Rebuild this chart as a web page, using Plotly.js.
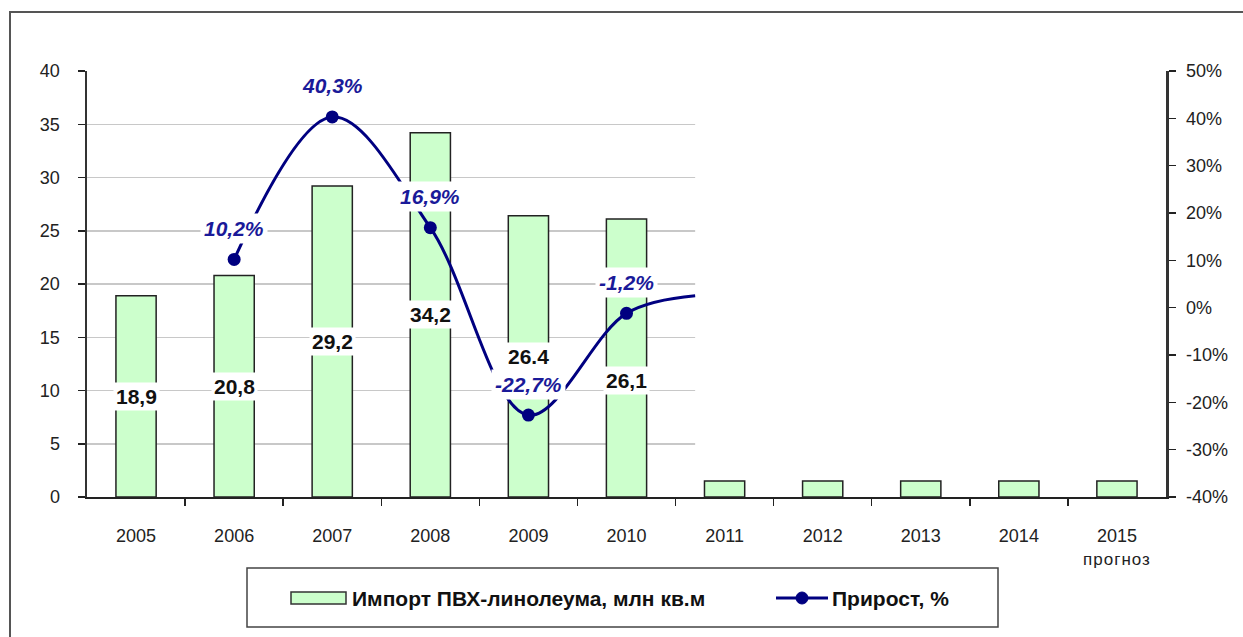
<!DOCTYPE html>
<html><head><meta charset="utf-8">
<script src="https://cdn.plot.ly/plotly-3.0.1.min.js"></script>
<style>html,body{margin:0;padding:0;background:#fff}#chart{width:1243px;height:637px}</style>
</head><body><div id="chart"></div>
<script>
const years = [2005, 2006, 2007, 2008, 2009, 2010, 2011, 2012, 2013, 2014, 2015];
const yearLabels = ['2005', '2006', '2007', '2008', '2009', '2010', '2011', '2012', '2013', '2014', '2015<br><span style="font-size:17px;letter-spacing:1px">прогноз</span>'];
const importValues = [18.9, 20.8, 29.2, 34.2, 26.4, 26.1, 1.5, 1.5, 1.5, 1.5, 1.5];
const importLabels = ['18,9', '20,8', '29,2', '34,2', '26.4', '26,1'];
const growthYears = [2006, 2007, 2008, 2009, 2010, 2010.7];
const growthValues = [10.2, 40.3, 16.9, -22.7, -1.2, 2.5];
const growthLabels = ['10,2%', '40,3%', '16,9%', '-22,7%', '-1,2%'];
const seriesNames = ['Импорт ПВХ-линолеума, млн кв.м', 'Прирост, %'];
const leftTicks = [0, 5, 10, 15, 20, 25, 30, 35, 40];
const rightTicks = [-40, -30, -20, -10, 0, 10, 20, 30, 40, 50];
const rightTickText = ['-40%', '-30%', '-20%', '-10%', '0%', '10%', '20%', '30%', '40%', '50%'];

const FONT = 'Liberation Sans, Arial, sans-serif';
const W = 1243, H = 637, ML = 87, MR = 77, MT = 71, MB = 140;
const PW = W - ML - MR, PH = H - MT - MB;
const px = v => (v - ML) / PW;
const py = v => (H - MB - v) / PH;

const barTrace = {
  type: 'bar', x: years, y: importValues, name: seriesNames[0],
  marker: {color: '#ccffcc', line: {color: '#222', width: 1.5}},
  width: 0.41, showlegend: false, hoverinfo: 'x+y'
};
const lineTrace = {
  type: 'scatter', mode: 'lines+markers', x: growthYears, y: growthValues, yaxis: 'y2',
  name: seriesNames[1],
  line: {color: '#000080', width: 3, shape: 'spline', smoothing: 1},
  marker: {color: '#000080', opacity: 1, line: {width: 0},
           size: growthValues.map((v, i) => i < growthLabels.length ? 13 : 0)},
  showlegend: false
};

const annotations = [];
importLabels.forEach((t, i) => {
  annotations.push({
    x: years[i], y: importValues[i] / 2, xref: 'x', yref: 'y', text: '<b>' + t + '</b>', showarrow: false,
    yshift: i === 5 ? -22 : 0,
    font: {family: FONT, size: 21, color: '#111'},
    bgcolor: '#ffffff', borderpad: 2
  });
});
growthLabels.forEach((t, i) => {
  annotations.push({
    x: growthYears[i], y: growthValues[i], xref: 'x', yref: 'y2', text: '<b><i>' + t + '</i></b>',
    showarrow: false, yshift: 31,
    font: {family: FONT, size: 21, color: '#1a1a99'},
    bgcolor: '#ffffff', borderpad: 3
  });
});
// legend texts
annotations.push({xref: 'paper', yref: 'paper', x: px(350), y: py(598), xanchor: 'left', yanchor: 'middle',
  text: '<b>' + seriesNames[0] + '</b>', showarrow: false, font: {family: FONT, size: 21, color: '#111'}});
annotations.push({xref: 'paper', yref: 'paper', x: px(830), y: py(598), xanchor: 'left', yanchor: 'middle',
  text: '<b>' + seriesNames[1] + '</b>', showarrow: false, font: {family: FONT, size: 21, color: '#111'}});

const shapes = [
  // white cover of the unfinished part (grid hidden to the right)
  {type: 'rect', xref: 'x', yref: 'y', x0: growthYears[growthYears.length - 1], x1: 2016, y0: 0.25, y1: 41,
   fillcolor: '#ffffff', line: {width: 0}, layer: 'between'},
  // outer frame
  {type: 'rect', xref: 'paper', yref: 'paper', x0: px(10), x1: px(1262), y0: py(12), y1: py(660),
   line: {color: '#555', width: 2}, fillcolor: 'rgba(0,0,0,0)'},
  // legend box
  {type: 'rect', xref: 'paper', yref: 'paper', x0: px(247), x1: px(998), y0: py(568), y1: py(627),
   line: {color: '#444', width: 1.5}, fillcolor: 'rgba(0,0,0,0)'},
  // legend bar symbol
  {type: 'rect', xref: 'paper', yref: 'paper', x0: px(291), x1: px(346), y0: py(592), y1: py(604),
   line: {color: '#333', width: 1.5}, fillcolor: '#ccffcc'},
  // legend line symbol
  {type: 'line', xref: 'paper', yref: 'paper', x0: px(776), x1: px(828), y0: py(598), y1: py(598),
   line: {color: '#000080', width: 3}},
  {type: 'circle', xref: 'paper', yref: 'paper', x0: px(796), x1: px(808), y0: py(592), y1: py(604),
   line: {color: '#000080', width: 1}, fillcolor: '#000080'}
];

const layout = {
  width: W, height: H,
  margin: {l: ML, r: MR, t: MT, b: MB, pad: 0},
  paper_bgcolor: '#fff', plot_bgcolor: '#fff',
  font: {family: FONT, size: 18, color: '#222'},
  showlegend: false,
  xaxis: {
    range: [2004.5, 2015.5], tickvals: years, ticktext: yearLabels, ticks: '',
    showgrid: false, zeroline: false, showline: true, linecolor: '#222', linewidth: 2,
    ticklabelstandoff: 21, tickfont: {size: 18, color: '#222'},
    minor: {tickvals: years.map(y => y - 0.5).slice(1), ticks: 'outside', ticklen: 7, tickcolor: '#222', tickwidth: 1.5, showgrid: false}
  },
  yaxis: {
    range: [0, 40], tickvals: leftTicks, ticks: 'outside', ticklen: 7, tickwidth: 1.5, tickcolor: '#222',
    showline: true, linecolor: '#333', linewidth: 2.5, gridcolor: '#c8c8c8', gridwidth: 1.5, zeroline: false,
    tickfont: {size: 18, color: '#222'}, ticklabelstandoff: 14
  },
  yaxis2: {
    range: [-40, 50], tickvals: rightTicks, ticktext: rightTickText, overlaying: 'y', side: 'right',
    ticks: 'outside', ticklen: 7, tickwidth: 1.5, tickcolor: '#222',
    showline: true, linecolor: '#333', linewidth: 2.5, showgrid: false, zeroline: false,
    tickfont: {size: 18, color: '#222'}, ticklabelstandoff: 7
  },
  bargap: 0.6,
  annotations: annotations,
  shapes: shapes
};

Plotly.newPlot('chart', [barTrace, lineTrace], layout, {displayModeBar: false, staticPlot: true});
</script>
</body></html>
